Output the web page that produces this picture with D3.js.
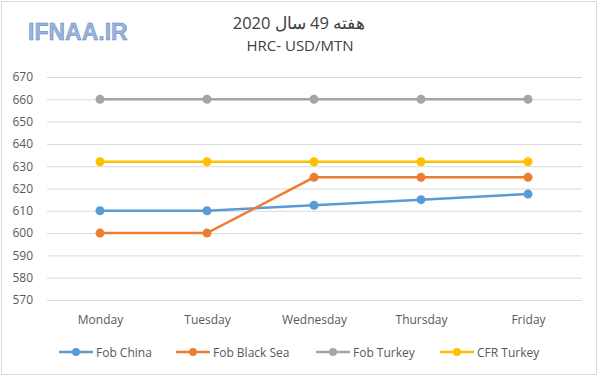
<!DOCTYPE html>
<html>
<head>
<meta charset="utf-8">
<script src="https://cdn.jsdelivr.net/npm/d3@7"></script>
<style>
  body { margin: 0; background: #fff; }
  text { font-family: "Open Sans", "Liberation Sans", sans-serif; fill: #595959; }
</style>
</head>
<body>
<div id="chart"></div>
<script>
const days = ["Monday", "Tuesday", "Wednesday", "Thursday", "Friday"];
const fobChina = [610, 610, 612.5, 615, 617.5];
const fobBlackSea = [600, 600, 625, 625, 625];
const fobTurkey = [660, 660, 660, 660, 660];
const cfrTurkey = [632, 632, 632, 632, 632];
const yTicks = [570, 580, 590, 600, 610, 620, 630, 640, 650, 660, 670];

const series = [
    { name: "Fob China", values: fobChina, color: "#5b9bd5" },
    { name: "Fob Black Sea", values: fobBlackSea, color: "#ed7d31" },
    { name: "Fob Turkey", values: fobTurkey, color: "#a5a5a5" },
    { name: "CFR Turkey", values: cfrTurkey, color: "#ffc000" }
];

const W = 600, H = 378;
const svg = d3.select("#chart").append("svg")
    .attr("width", W)
    .attr("height", H);

svg.append("rect")
    .attr("x", 1.5).attr("y", 1.5)
    .attr("width", 595).attr("height", 373)
    .attr("fill", "#fff")
    .attr("stroke", "#d9d9d9");

// logo
svg.append("text")
    .attr("x", 28).attr("y", 40)
    .style("font-family", "Liberation Sans, sans-serif")
    .style("font-weight", "bold")
    .style("font-size", "23px")
    .style("fill", "#93b6e4")
    .style("stroke", "#6f84a6")
    .style("stroke-width", 0.5)
    .text("IFNAA.IR");

// titles
svg.append("text")
    .attr("x", 299).attr("y", 29)
    .attr("text-anchor", "middle")
    .style("font-size", "16.5px")
    .style("fill", "#404040")
    .text("هفته 49 سال 2020");

svg.append("text")
    .attr("x", 300).attr("y", 51)
    .attr("text-anchor", "middle")
    .style("font-size", "15px")
    .style("fill", "#404040")
    .text("HRC- USD/MTN");

const x = d3.scalePoint().domain(days).range([100, 528]);
const y = d3.scaleLinear().domain([570, 670]).range([300, 77]);

// grid + y axis
svg.append("g")
    .attr("transform", "translate(47,0)")
    .call(d3.axisLeft(y).tickValues(yTicks).tickSize(-535).tickPadding(10))
    .call(g => g.select(".domain").remove())
    .call(g => g.selectAll("line").attr("stroke", "#d9d9d9"))
    .call(g => g.selectAll("text").style("font-size", "12px").style("fill", "#595959").attr("x", -14));

// x axis labels
svg.append("g")
    .attr("transform", "translate(0,300)")
    .call(d3.axisBottom(x).tickSize(0).tickPadding(15))
    .call(g => g.select(".domain").remove())
    .call(g => g.selectAll("text").style("font-size", "12px").style("fill", "#595959"));

const line = d3.line()
    .x((d, i) => x(days[i]))
    .y(d => y(d));

series.forEach(s => {
    svg.append("path")
        .datum(s.values)
        .attr("fill", "none")
        .attr("stroke", s.color)
        .attr("stroke-width", 2.5)
        .attr("d", line);

    svg.selectAll(null)
        .data(s.values)
        .enter()
        .append("circle")
        .attr("cx", (d, i) => x(days[i]))
        .attr("cy", d => y(d))
        .attr("r", 4.5)
        .attr("fill", s.color);
});

// legend
const legendX = [59, 176, 316, 440];
const legend = svg.append("g").attr("transform", "translate(0,352)");
series.forEach((s, i) => {
    const g = legend.append("g").attr("transform", `translate(${legendX[i]},0)`);
    g.append("line")
        .attr("x1", 0).attr("x2", 34)
        .attr("stroke", s.color)
        .attr("stroke-width", 2.5);
    g.append("circle")
        .attr("cx", 17).attr("r", 4)
        .attr("fill", s.color);
    g.append("text")
        .attr("x", 37).attr("y", 4.5)
        .style("font-size", "12px")
        .text(s.name);
});
</script>
</body>
</html>
